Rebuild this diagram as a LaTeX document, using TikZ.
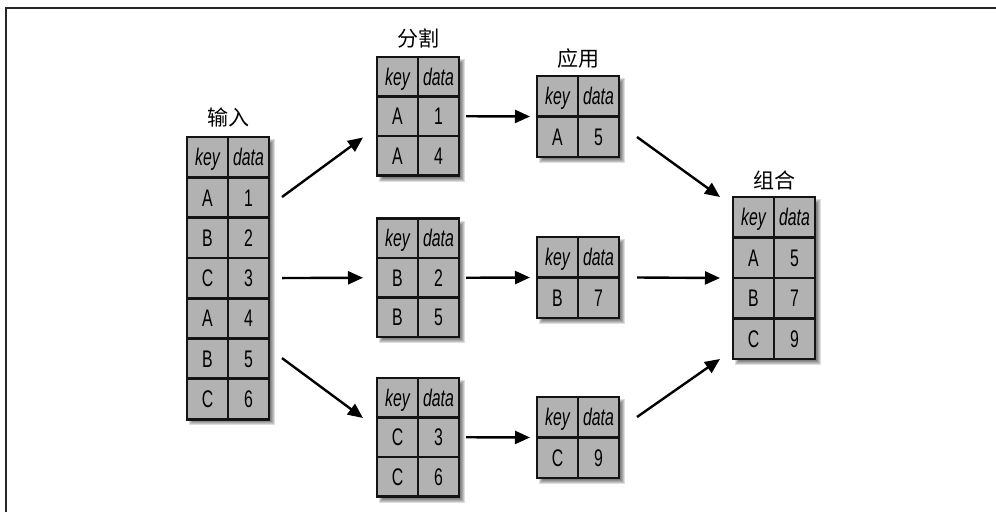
\documentclass[tikz,border=0pt]{standalone}
\usepackage{fontspec}
\setmainfont{Liberation Sans}[FakeStretch=0.66]
\newfontfamily\cjk{Noto Sans CJK SC}
\usetikzlibrary{arrows.meta,calc}
\definecolor{cellgray}{RGB}{178,178,178}
\definecolor{ink}{RGB}{20,20,20}
\tikzset{
  cell/.style={draw=ink, line width=2.8pt, fill=cellgray, minimum width=41pt,
    minimum height=#1, inner sep=0pt, outer sep=0pt, text height=17.2pt,
    text depth=0pt, anchor=north west, font=\fontsize{24}{24}\selectfont},
  hdr/.style={font=\fontsize{24}{24}\selectfont\itshape},
  ttl/.style={font=\cjk\fontsize{21}{21}\selectfont, inner sep=0pt},
  arr/.style={line width=2.4pt, draw=black, -{Triangle[length=15pt,width=13pt]}},
  tblbox/.style={inner sep=0pt, outer sep=0pt, anchor=north west, minimum width=82pt},
  frame/.style={line width=1.5pt, draw=black!85},
}
% #1 name, #2 x, #3 y, #4 row height, #5 number of data rows, #6 rows
\newcommand\datatable[6]{%
  \pgfmathsetmacro\tH{(#5+1)*#4}
  \foreach \b in {0,...,5}{
    \fill[black,opacity=0.13] (#2+2+\b, #3+2+\b) rectangle (#2+88-\b, #3+\tH+6-\b);
  }
  \node[cell=#4pt, hdr] (#1-0-k) at (#2,#3) {key};
  \node[cell=#4pt, hdr] (#1-0-d) at (#2+41,#3) {data};
  \foreach \k/\v [count=\i] in {#6}{
    \node[cell=#4pt] (#1-\i-k) at (#2, #3+\i*#4) {\k};
    \node[cell=#4pt] (#1-\i-d) at (#2+41, #3+\i*#4) {\v};
  }
  \node[tblbox, minimum height=\tH pt] (#1) at (#2,#3) {};
}
\begin{document}
\begin{tikzpicture}[x=1pt,y=-1pt]
\useasboundingbox (0,0) rectangle (996,512);
\draw[frame] (5.8,512) -- (5.8,8.2) -- (996,8.2);

\datatable{inp}{187}{137}{40.3}{6}{A/1,B/2,C/3,A/4,B/5,C/6}
\datatable{sA}{377}{57}{39.5}{2}{A/1,A/4}
\datatable{sB}{377}{218.5}{39.5}{2}{B/2,B/5}
\datatable{sC}{377}{378}{39.5}{2}{C/3,C/6}
\datatable{aA}{537}{76}{40.5}{1}{A/5}
\datatable{aB}{537}{237}{40.5}{1}{B/7}
\datatable{aC}{537}{397}{40.5}{1}{C/9}
\datatable{cmb}{733}{197}{40.5}{3}{A/5,B/7,C/9}

\node[ttl] (linp) at ($(inp.north)+(0,-20)$) {输入};
\node[ttl] (lsplit) at ($(sA.north)+(0,-19)$) {分割};
\node[ttl] (lapply) at ($(aA.north)+(0,-17)$) {应用};
\node[ttl] (lcmb) at ($(cmb.north)+(0,-17)$) {组合};

\draw[arr] ($(inp.north east)+(13,60)$) -- ($(sA.south west)+(-14,-38)$);
\draw[arr] ($(inp.east)+(13,0)$) -- ($(sB.west)+(-14,0)$);
\draw[arr] ($(inp.south east)+(13,-61)$) -- ($(sC.north west)+(-14,40)$);

\draw[arr] ($(sA.east)+(7,0)$) -- ($(aA.west)+(-7,0)$);
\draw[arr] ($(sB.east)+(7,0)$) -- ($(aB.west)+(-7,0)$);
\draw[arr] ($(sC.east)+(7,0)$) -- ($(aC.west)+(-7,0)$);

\draw[arr] ($(aA.south east)+(18,-20)$) -- ($(cmb.north west)+(-13,0)$);
\draw[arr] ($(aB.east)+(18,0)$) -- ($(cmb.west)+(-13,0)$);
\draw[arr] ($(aC.north east)+(18,20)$) -- ($(cmb.south west)+(-13,0)$);
\end{tikzpicture}
\end{document}
